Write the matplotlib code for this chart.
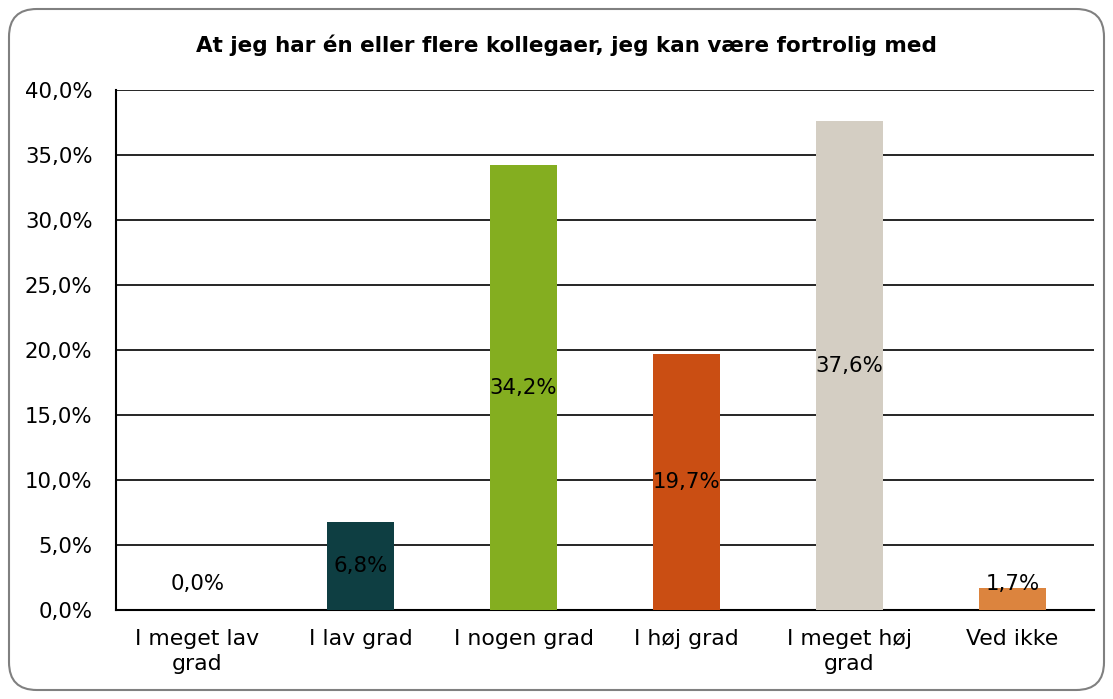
import matplotlib.pyplot as plt
from matplotlib.patches import FancyBboxPatch
from matplotlib.ticker import FuncFormatter

categories = ["I meget lav\ngrad", "I lav grad", "I nogen grad", "I høj grad",
              "I meget høj\ngrad", "Ved ikke"]
values = [0.0, 6.8, 34.2, 19.7, 37.6, 1.7]
colors = ["#0E3E42", "#0E3E42", "#84AE20", "#CA4E13", "#D4CEC3", "#DC843E"]
title = "At jeg har én eller flere kollegaer, jeg kan være fortrolig med"

fig = plt.figure(figsize=(11.13, 6.99), dpi=100)
ax = fig.add_axes([116 / 1113, 1 - 610 / 699, (1094 - 116) / 1113, 520 / 699])

# rounded frame around the whole chart
frame = FancyBboxPatch((9 / 1113, 9 / 699), 1095 / 1113, 681 / 699,
                       boxstyle="round,pad=0,rounding_size=0.025",
                       transform=fig.transFigure, facecolor="none",
                       edgecolor="#808080", linewidth=1.5, mutation_aspect=1113 / 699)
fig.patches.append(frame)

x = range(len(categories))
bars = ax.bar(x, values, width=0.405, color=colors, zorder=3)

for i, v in enumerate(values):
    y = max(v / 2, 2.0)
    ax.text(i, y, f"{v:.1f}%".replace(".", ","), ha="center", va="center",
            fontsize=15.3, color="black", zorder=4)

ax.set_xlim(-0.5, len(categories) - 0.5)
ax.set_ylim(0, 40)
ax.set_yticks(range(0, 41, 5))
ax.yaxis.set_major_formatter(FuncFormatter(lambda v, p: f"{v:.1f}%".replace(".", ",")))
ax.set_xticks(list(x))
ax.set_xticklabels(categories, fontsize=15.8, linespacing=1.3)
ax.tick_params(axis="y", labelsize=15.3, length=0, pad=17)
ax.tick_params(axis="x", length=0, pad=14)
ax.grid(axis="y", color="black", linewidth=1.2, zorder=1)
for s in ["top", "right"]:
    ax.spines[s].set_visible(False)
ax.spines["left"].set_linewidth(1.5)
ax.spines["bottom"].set_linewidth(1.5)

fig.text(566 / 1113, 1 - 45 / 699, title, ha="center", va="center",
         fontsize=15.5, fontweight="bold")

fig.savefig("out.png", dpi=100)
